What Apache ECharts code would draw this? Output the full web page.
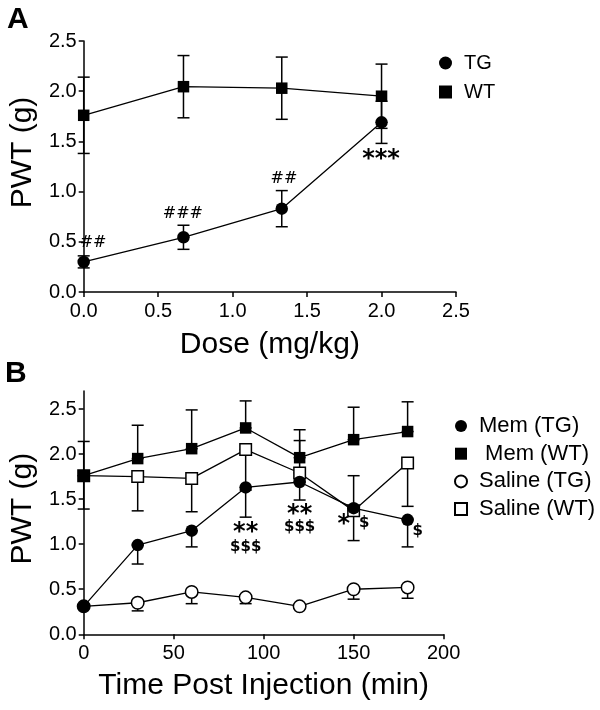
<!DOCTYPE html>
<html>
<head>
<meta charset="utf-8">
<script src="https://cdn.jsdelivr.net/npm/echarts@6/dist/echarts.min.js"></script>
<style>
  html, body { margin: 0; padding: 0; background: #fff; }
  #chart { width: 600px; height: 710px; }
</style>
</head>
<body>
<div id="chart"></div>
<script>
// panel A: dose response
var doseA = [0, 0.67, 1.33, 2.0];
var tgA = [0.30, 0.545, 0.83, 1.69];
var tgErrA = [0.06, 0.12, 0.18, 0.21];
var wtA = [1.76, 2.045, 2.03, 1.95];
var wtErrA = [0.38, 0.31, 0.31, 0.32];
// marks above points in A: [dose, PWT, text]
var notesA = [[0.063, 0.49, "##"], [0.666, 0.78, "###"], [1.345, 1.125, "##"]];
var starsA = [[1.997, 1.32, "***"]];

// panel B: time course
var timeB = [0, 30, 60, 90, 120, 150, 180];
var memTG = [0.31, 0.99, 1.15, 1.63, 1.69, 1.40, 1.27];
var memTGDown = [0, 0.21, 0.18, 0.33, 0.20, 0.36, 0.30];
var memWT = [1.76, 1.95, 2.06, 2.29, 1.96, 2.16, 2.25];
var memWTUp = [0.38, 0.37, 0.43, 0.30, 0.31, 0.36, 0.33];
var salTG = [0.31, 0.35, 0.47, 0.41, 0.31, 0.50, 0.52];
var salTGDown = [0, 0.09, 0.13, 0.07, 0, 0.11, 0.12];
var salWT = [1.76, 1.75, 1.73, 2.05, 1.79, 1.37, 1.90];
var salWTUp = [0, 0, 0, 0, 0.36, 0.39, 0];
var salWTDown = [0.37, 0.38, 0.37, 0.45, 0, 0, 0.48];
var ticksB = [0, 0.5, 1.0, 1.5, 2.0, 2.5];
var starsB = [[90, 1.13, "**"], [120, 1.33, "**"], [144.5, 1.22, "*"]];
var dollarsB = [[90, 0.97, "$$$"], [120, 1.19, "$$$"], [155.9, 1.23, "$"], [185.6, 1.14, "$"]];

var chart = echarts.init(document.getElementById("chart"));

function pairs(xs, ys) {
  return xs.map(function (x, i) { return [x, ys[i]]; });
}
function zeros(xs) {
  return xs.map(function () { return 0; });
}
// [x, low, high]
function bars(xs, ys, up, down) {
  return xs.map(function (x, i) { return [x, ys[i] - down[i], ys[i] + up[i]]; });
}
function errorSeries(data, axis) {
  return {
    type: "custom",
    xAxisIndex: axis,
    yAxisIndex: axis,
    z: 1,
    silent: true,
    data: data,
    renderItem: function (params, api) {
      var x = api.value(0);
      var lo = api.coord([x, api.value(1)]);
      var hi = api.coord([x, api.value(2)]);
      var w = 6;
      var st = { stroke: "#000", lineWidth: 1.5 };
      var kids = [{ type: "line", shape: { x1: lo[0], y1: lo[1], x2: hi[0], y2: hi[1] }, style: st }];
      if (Math.abs(hi[1] - lo[1]) > 0.5) {
        kids.push({ type: "line", shape: { x1: hi[0] - w, y1: hi[1], x2: hi[0] + w, y2: hi[1] }, style: st });
        kids.push({ type: "line", shape: { x1: lo[0] - w, y1: lo[1], x2: lo[0] + w, y2: lo[1] }, style: st });
      }
      return { type: "group", children: kids };
    }
  };
}
function lineSeries(name, data, axis, symbol, open) {
  return {
    name: name,
    type: "line",
    xAxisIndex: axis,
    yAxisIndex: axis,
    data: data,
    z: 3,
    symbol: symbol,
    symbolSize: symbol == "rect" ? 11.5 : 12.5,
    showAllSymbol: true,
    lineStyle: { color: "#000", width: 1.3 },
    itemStyle: open
      ? { color: "#fff", borderColor: "#000", borderWidth: 1.5 }
      : { color: "#000", borderColor: "#000", borderWidth: 0 }
  };
}
function noteSeries(list, axis, font) {
  return {
    type: "scatter",
    xAxisIndex: axis,
    yAxisIndex: axis,
    z: 5,
    silent: true,
    symbolSize: 1,
    itemStyle: { color: "transparent", opacity: 1 },
    data: list.map(function (n) { return { name: n[2], value: [n[0], n[1]] }; }),
    label: {
      show: true,
      position: [0.5, 0.5],
      align: "center",
      verticalAlign: "middle",
      formatter: function (p) { return p.name; },
      color: "#000",
      opacity: 1,
      textBorderWidth: 0,
      fontFamily: font.family,
      fontSize: font.size,
      fontWeight: font.weight
    }
  };
}

var axisLine = { lineStyle: { color: "#000", width: 1.5 } };
var axisTick = { inside: false, length: 5, lineStyle: { color: "#000", width: 1.5 } };
var labelFont = { color: "#000", fontFamily: "Liberation Sans", fontSize: 20 };
var titleFont = { color: "#000", fontFamily: "Liberation Sans", fontSize: 30 };

chart.setOption({
  animation: false,
  backgroundColor: "#fff",
  title: [
    { text: "A", left: 2, top: 0, textStyle: { fontFamily: "Liberation Sans", fontSize: 30, fontWeight: "bold", color: "#000" } },
    { text: "B", left: 0, top: 354, textStyle: { fontFamily: "Liberation Sans", fontSize: 30, fontWeight: "bold", color: "#000" } }
  ],
  legend: [
    {
      data: [{ name: "TG", icon: "circle" }, { name: "WT", icon: "rect" }],
      orient: "vertical",
      left: 434,
      top: 48,
      itemWidth: 13,
      itemHeight: 13,
      itemGap: 9,
      selectedMode: false,
      textStyle: { color: "#000", fontFamily: "Liberation Sans", fontSize: 20, lineHeight: 20, padding: [0, 0, 0, 7] }
    },
    {
      data: [
        { name: "Mem (TG)", icon: "circle" },
        { name: " Mem (WT)", icon: "rect" },
        { name: "Saline (TG)", icon: "circle" },
        { name: "Saline (WT)", icon: "rect" }
      ],
      orient: "vertical",
      left: 449,
      top: 410,
      itemWidth: 12,
      itemHeight: 12,
      itemGap: 5.7,
      selectedMode: false,
      textStyle: { color: "#000", fontFamily: "Liberation Sans", fontSize: 22, lineHeight: 22, padding: [0, 0, 0, 7] }
    }
  ],
  grid: [
    { left: 78, top: 41, width: 378, height: 251 },
    { left: 77, top: 391, width: 366.6, height: 243.3 }
  ],
  xAxis: [
    {
      gridIndex: 0,
      type: "value",
      min: 0,
      max: 2.5,
      interval: 0.5,
      name: "Dose (mg/kg)",
      nameLocation: "middle",
      nameGap: 38,
      nameTextStyle: titleFont,
      axisLine: axisLine,
      axisTick: axisTick,
      splitLine: { show: false },
      axisLabel: Object.assign({ margin: 9, formatter: function (v) { return v.toFixed(1); } }, labelFont)
    },
    {
      gridIndex: 1,
      type: "value",
      min: 0,
      max: 200,
      interval: 50,
      name: "Time Post Injection (min)",
      nameLocation: "middle",
      nameGap: 36,
      nameTextStyle: titleFont,
      axisLine: axisLine,
      axisTick: axisTick,
      splitLine: { show: false },
      axisLabel: Object.assign({ margin: 9 }, labelFont)
    }
  ],
  yAxis: [
    {
      gridIndex: 0,
      type: "value",
      min: 0,
      max: 2.5,
      interval: 0.5,
      name: "PWT (g)",
      nameLocation: "middle",
      nameGap: 43,
      nameTextStyle: Object.assign({ padding: [0, 0, 0, 28] }, titleFont),
      axisLine: axisLine,
      axisTick: axisTick,
      splitLine: { show: false },
      axisLabel: Object.assign({ margin: 7, formatter: function (v) { return v.toFixed(1); } }, labelFont)
    },
    {
      gridIndex: 1,
      type: "value",
      min: 0,
      max: 2.7,
      name: "PWT (g)",
      nameLocation: "middle",
      nameGap: 43,
      nameTextStyle: Object.assign({ padding: [0, 0, 0, 8] }, titleFont),
      axisLine: axisLine,
      axisTick: Object.assign({ customValues: ticksB }, axisTick),
      splitLine: { show: false },
      axisLabel: Object.assign({ margin: 7, customValues: ticksB, formatter: function (v) { return v.toFixed(1); } }, labelFont)
    }
  ],
  series: [
    errorSeries(bars(doseA, tgA, tgErrA, tgErrA), 0),
    errorSeries(bars(doseA, wtA, wtErrA, wtErrA), 0),
    lineSeries("TG", pairs(doseA, tgA), 0, "circle", false),
    lineSeries("WT", pairs(doseA, wtA), 0, "rect", false),
    noteSeries(notesA, 0, { family: "DejaVu Serif", size: 16, weight: "normal" }),
    noteSeries(starsA, 0, { family: "DejaVu Sans", size: 24, weight: "bold" }),

    errorSeries(bars(timeB, memTG, zeros(timeB), memTGDown), 1),
    errorSeries(bars(timeB, memWT, memWTUp, zeros(timeB)), 1),
    errorSeries(bars(timeB, salTG, zeros(timeB), salTGDown), 1),
    errorSeries(bars(timeB, salWT, salWTUp, salWTDown), 1),
    lineSeries("Saline (TG)", pairs(timeB, salTG), 1, "circle", true),
    lineSeries("Saline (WT)", pairs(timeB, salWT), 1, "rect", true),
    lineSeries(" Mem (WT)", pairs(timeB, memWT), 1, "rect", false),
    lineSeries("Mem (TG)", pairs(timeB, memTG), 1, "circle", false),
    noteSeries(starsB, 1, { family: "DejaVu Sans", size: 24, weight: "bold" }),
    noteSeries(dollarsB, 1, { family: "DejaVu Sans", size: 15, weight: "bold" })
  ]
});
</script>
</body>
</html>
